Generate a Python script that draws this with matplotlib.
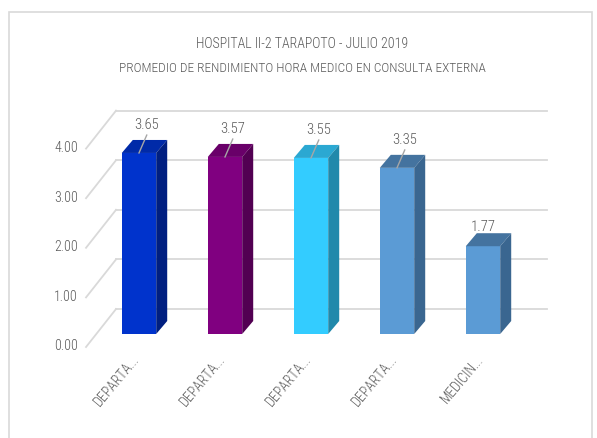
import matplotlib
matplotlib.use("Agg")
import matplotlib.pyplot as plt
from matplotlib import font_manager
from matplotlib.patches import Polygon, Rectangle

instaladas = {f.name for f in font_manager.fontManager.ttflist}
fuente = next((n for n in ["Roboto Condensed", "Fira Sans Condensed", "Carlito"]
               if n in instaladas), "DejaVu Sans")
plt.rcParams['font.family'] = [fuente, 'DejaVu Sans']
plt.rcParams['font.weight'] = 'light'

# Datos
categorias = ["DEPARTA...", "DEPARTA...", "DEPARTA...", "DEPARTA...", "MEDICIN..."]
valores = [3.65, 3.57, 3.55, 3.35, 1.77]
y_ticks = [0, 1, 2, 3, 4]

# colores (frente, tapa, lado)
c_frente = ["#0033CC", "#800080", "#33CCFF", "#5B9BD5", "#5B9BD5"]
c_tapa = ["#002AA8", "#690069", "#2BA8D2", "#44739F", "#44739F"]
c_lado = ["#001F80", "#520052", "#2189AB", "#3A6690", "#3A6690"]
con_guia = [True, True, True, True, False]

gris = "#595959"
fig = plt.figure(figsize=(5.97, 4.38), dpi=100)
ax = fig.add_axes([0, 0, 1, 1])
ax.set_xlim(-139 / 86, (597 - 139) / 86)
ax.set_ylim((334 - 438) / 49.6, 334 / 49.6)
ax.axis("off")

# marco
fig.patches.append(Rectangle((9 / 597, -0.05), 583 / 597, 1 - 12 / 438 + 0.05,
                             transform=fig.transFigure, fill=False,
                             edgecolor="#D9D9D9", lw=1.2))

# "3D": desplazamientos
pared_dx, pared_dy = 0.229, 0.504
frente_dx, frente_dy = -0.12, -0.262
prof_dx, prof_dy = 0.128, 0.262
ancho = 0.4
x_izq, x_der = -0.267, 4.744

for k in y_ticks:
    ax.plot([x_izq, x_der], [k + pared_dy, k + pared_dy], color="#D9D9D9", lw=1.3, zorder=1)
    ax.plot([x_izq + frente_dx - pared_dx, x_izq], [k + frente_dy, k + pared_dy],
            color="#D9D9D9", lw=1.3, zorder=1)
    ax.text(-0.71, k - 0.25, f"{k:.2f}", ha="right", va="center", color=gris, fontsize=10)

xs = list(range(len(valores)))
ax.bar(xs, valores, width=ancho, color=c_frente, zorder=3)
for i, v in zip(xs, valores):
    l, r = i - ancho / 2, i + ancho / 2
    ax.add_patch(Polygon([(l, v), (r, v), (r + prof_dx, v + prof_dy), (l + prof_dx, v + prof_dy)],
                         closed=True, facecolor=c_tapa[i], edgecolor="none", zorder=3))
    ax.add_patch(Polygon([(r, 0), (r + prof_dx, prof_dy), (r + prof_dx, v + prof_dy), (r, v)],
                         closed=True, facecolor=c_lado[i], edgecolor="none", zorder=3))
    if con_guia[i]:
        ax.plot([i, i + 0.09], [v, v + 0.36], color="#A6A6A6", lw=1, zorder=4)
        ax.text(i + 0.09, v + 0.56, f"{v:.2f}", ha="center", va="center", color=gris, fontsize=10.5, zorder=5)
    else:
        ax.text(i + 0.0, v + 0.38, f"{v:.2f}", ha="center", va="center", color=gris, fontsize=10.5, zorder=5)

for i, c in zip(xs, categorias):
    ax.text(i - 0.03, -0.46, c, rotation=50, rotation_mode="anchor", ha="right", va="center",
            color=gris, fontsize=10)

fig.text(302 / 597, 1 - 44 / 438, "HOSPITAL II-2 TARAPOTO - JULIO 2019", ha="center", va="center",
         color=gris, fontsize=10)
fig.text(302 / 597, 1 - 68 / 438, "PROMEDIO DE RENDIMIENTO HORA MEDICO EN CONSULTA EXTERNA",
         ha="center", va="center", color=gris, fontsize=9.6)

fig.savefig("out.png", dpi=100)
